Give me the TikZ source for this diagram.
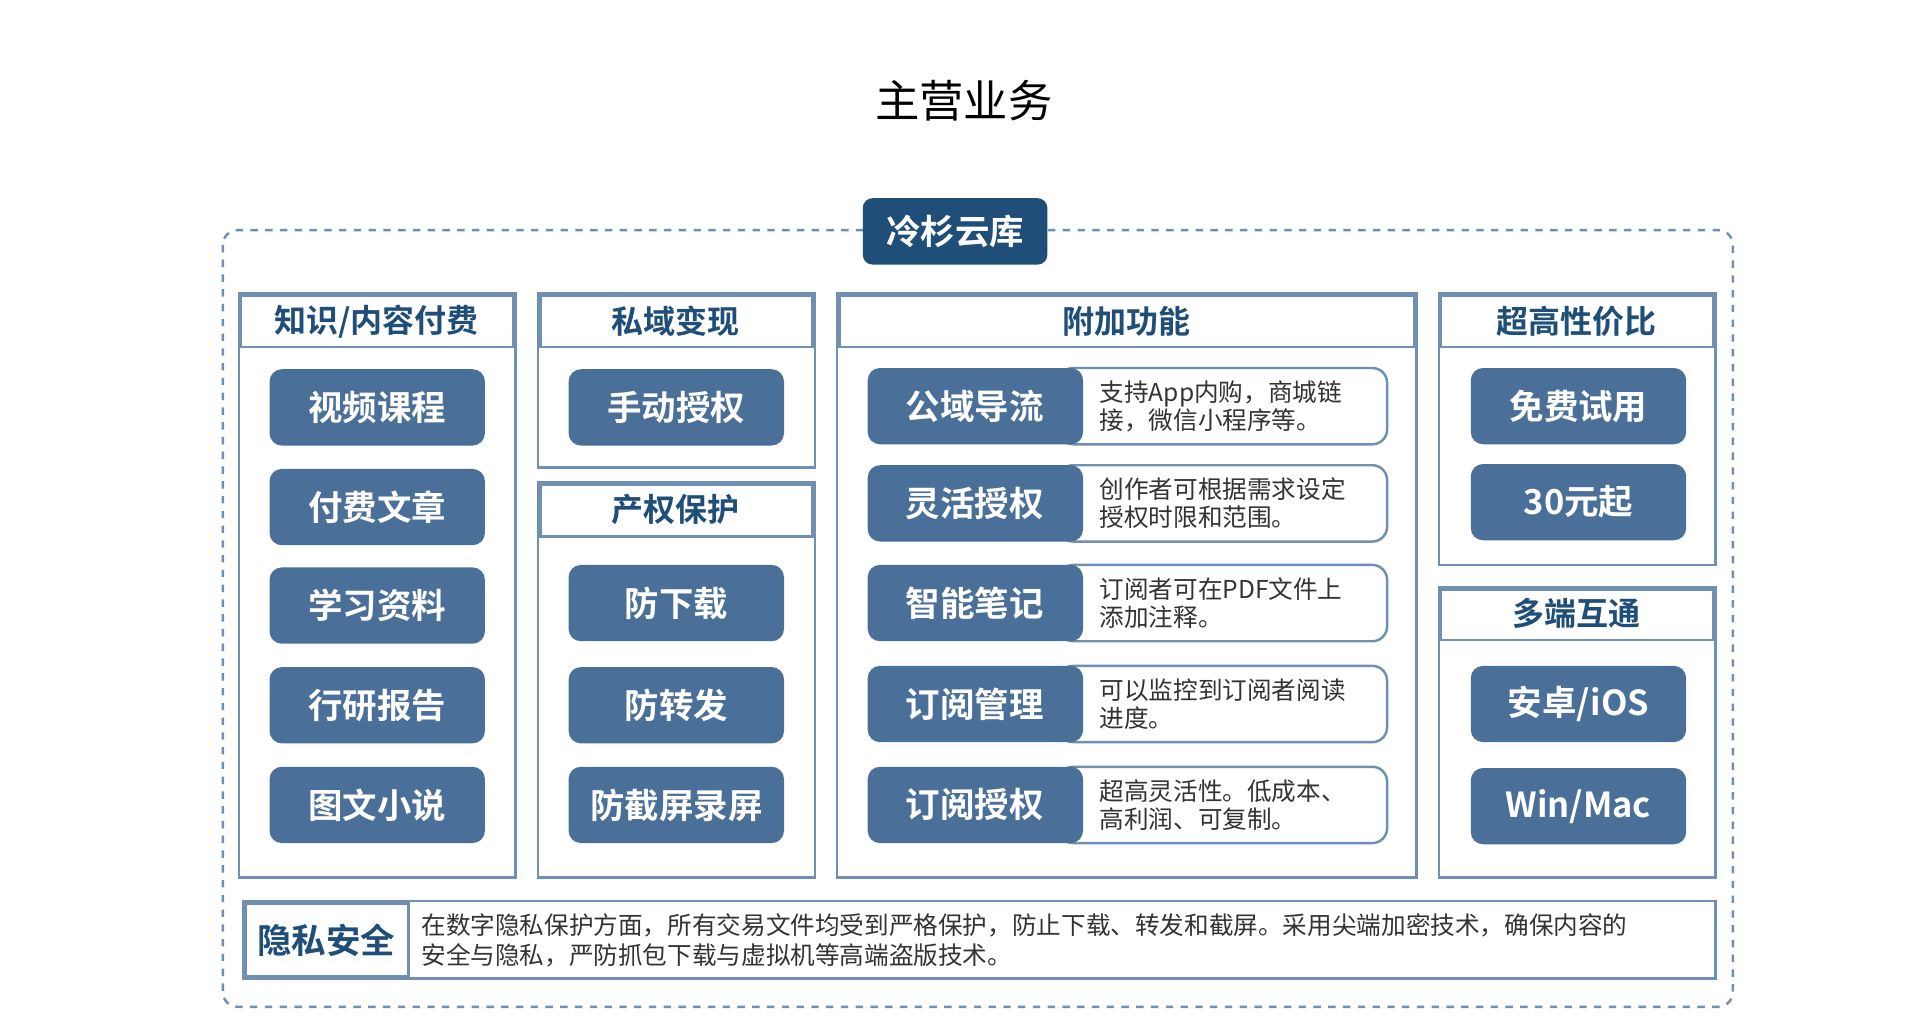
\documentclass[tikz,border=0pt]{standalone}
\usepackage{fontspec}
\setmainfont{Noto Sans CJK SC}
\newfontfamily\cjkb{Noto Sans CJK SC Bold}
\begin{document}
\begin{tikzpicture}[x=0.5pt,y=-0.5pt,
  frame/.style={draw=boxc,line width=1pt},
  hdr/.style={font=\cjkb\fontsize{13}{15}\selectfont,text=darkb},
  btn/.style={fill=btnc,rounded corners=5pt,inner sep=0pt},
  btxt/.style={text=white,font=\cjkb\fontsize{14}{16}\selectfont},
  desc/.style={font=\fontsize{10}{11.5}\selectfont,text=gray!40!black,align=left,anchor=west,inner sep=0pt}]
\definecolor{boxc}{HTML}{6F8FB3}
\definecolor{darkb}{HTML}{1F4E79}
\definecolor{btnc}{HTML}{4A6F98}
\useasboundingbox (0,0) rectangle (1560,829);
\fill[white] (0,0) rectangle (1560,829);
\node (title) at (783,82) {\fontsize{18}{20}\selectfont 主营业务};
\draw[boxc,dashed,line width=1pt,rounded corners=6pt] (181,187) rectangle (1408,818);
\node[fill=darkb,rounded corners=4pt,minimum width=75pt,minimum height=27pt,btxt] (top) at (776,188) {冷杉云库};
\newcommand\panel[6]{%
  \draw[frame] (#2,#3) rectangle (#4,#5);
  \draw[frame] (#2+2,#3+2) rectangle (#4-2,#6);}
\newcommand\mybtn[4]{%
  \path[btn] (#2,#3) rectangle ++(175,62);
  \node[btxt] (#1) at (#2+87.5,#3+31) {#4};}
\panel{c1}{194}{238}{419}{713}{282}
\node[hdr] (h1) at (306,261) {知识/内容付费};
\mybtn{b11}{219}{300}{视频课程}
\mybtn{b12}{219}{381}{付费文章}
\mybtn{b13}{219}{461}{学习资料}
\mybtn{b14}{219}{542}{行研报告}
\mybtn{b15}{219}{623}{图文小说}
\panel{c2}{437}{238}{662}{380}{282}
\node[hdr] (h2) at (549,261) {私域变现};
\mybtn{b21}{462}{300}{手动授权}
\panel{c3}{437}{392}{662}{713}{436}
\node[hdr] (h3) at (549,414) {产权保护};
\mybtn{b31}{462}{459}{防下载}
\mybtn{b32}{462}{542}{防转发}
\mybtn{b33}{462}{623}{防截屏录屏}
\panel{c4}{680}{238}{1151}{713}{282}
\node[hdr] (h4) at (915,261) {附加功能};
\newcommand\feat[5]{%
  \draw[boxc,line width=1pt,rounded corners=6pt] (860,#2) rectangle (1127,#2+62);
  \path[btn] (705,#2) rectangle ++(175,62);
  \node[btxt] (#1) at (792,#2+31) {#3};
  \node[desc] (#1d) at (893,#2+31) {#4\\#5};}
\feat{f1}{299}{公域导流}{支持App内购，商城链}{接，微信小程序等。}
\feat{f2}{378}{灵活授权}{创作者可根据需求设定}{授权时限和范围。}
\feat{f3}{459}{智能笔记}{订阅者可在PDF文件上}{添加注释。}
\feat{f4}{541}{订阅管理}{可以监控到订阅者阅读}{进度。}
\feat{f5}{623}{订阅授权}{超高灵活性。低成本、}{高利润、可复制。}
\panel{c5}{1169}{238}{1394}{459}{282}
\node[hdr] (h5) at (1281,261) {超高性价比};
\mybtn{b51}{1195}{299}{免费试用}
\mybtn{b52}{1195}{377}{30元起}
\panel{c6}{1169}{477}{1394}{713}{520}
\node[hdr] (h6) at (1281,498) {多端互通};
\mybtn{b61}{1195}{541}{安卓/iOS}
\mybtn{b62}{1195}{624}{Win/Mac}
\draw[frame] (198,732) rectangle (1394,795);
\draw[frame] (200,734) rectangle (332,793);
\node[hdr,font=\cjkb\fontsize{14}{16}\selectfont] (sec) at (265,764) {隐私安全};
\node[desc,font=\fontsize{10}{12.5}\selectfont] (sect) at (342,764) {在数字隐私保护方面，所有交易文件均受到严格保护，防止下载、转发和截屏。采用尖端加密技术，确保内容的\\安全与隐私，严防抓包下载与虚拟机等高端盗版技术。};
\end{tikzpicture}
\end{document}
